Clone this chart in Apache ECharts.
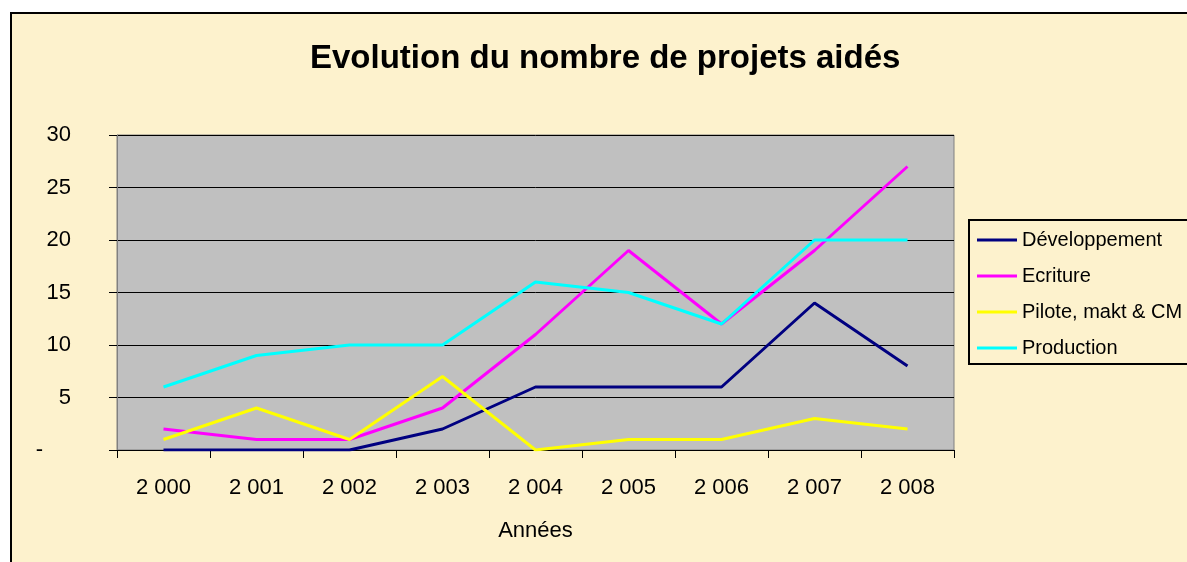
<!DOCTYPE html>
<html>
<head>
<meta charset="utf-8">
<script src="https://cdn.jsdelivr.net/npm/echarts@6/dist/echarts.min.js"></script>
<style>
html,body{margin:0;padding:0;background:#fff;}
#c{width:1187px;height:562px;}
</style>
</head>
<body>
<div id="c"></div>
<script>
var categories = ['2 000','2 001','2 002','2 003','2 004','2 005','2 006','2 007','2 008'];
var seriesNames = ['Développement','Ecriture','Pilote, makt & CM','Production'];
var developpement = [0,0,0,2,6,6,6,14,8];
var ecriture = [2,1,1,4,11,19,12,19,27];
var pilote = [1,4,1,7,0,1,1,3,2];
var production = [6,9,10,10,16,15,12,20,20];
var colors = ['#000080','#FF00FF','#FFFF00','#00FFFF'];
var yTicks = {min:0, max:30, interval:5};

var FONT = '"Liberation Sans", Arial, sans-serif';
var chart = echarts.init(document.getElementById('c'));
var dataSets = [developpement, ecriture, pilote, production];
chart.setOption({
  backgroundColor: '#FDF2CD',
  animation: false,
  textStyle: {fontFamily: FONT, color: '#000'},
  title: {
    text: 'Evolution du nombre de projets aidés',
    left: 305, top: 37,
    textStyle: {fontFamily: FONT, fontWeight: 'bold', fontSize: 33, color: '#000'}
  },
  graphic: [
    {type: 'rect', shape: {x: 0, y: 0, width: 1187, height: 12}, style: {fill: '#fff'}, silent: true},
    {type: 'rect', shape: {x: 0, y: 0, width: 10, height: 562}, style: {fill: '#fff'}, silent: true},
    {type: 'rect', shape: {x: 10, y: 12, width: 1177, height: 2}, style: {fill: '#000'}, silent: true},
    {type: 'rect', shape: {x: 10, y: 12, width: 2, height: 550}, style: {fill: '#000'}, silent: true}
  ],
  legend: {
    orient: 'vertical',
    left: 969, top: 220,
    padding: [10, 40, 6, 8],
    borderColor: '#000', borderWidth: 2,
    itemWidth: 40, itemHeight: 3, itemGap: 16,
    icon: 'rect',
    textStyle: {fontFamily: FONT, fontSize: 20, color: '#000', lineHeight: 20},
    data: seriesNames
  },
  grid: {
    left: 117, top: 135, width: 837, height: 315,
    show: true, backgroundColor: '#C0C0C0', borderColor: '#808080', borderWidth: 1
  },
  xAxis: {
    type: 'category', data: categories, boundaryGap: true,
    name: 'Années', nameLocation: 'middle', nameGap: 70,
    nameTextStyle: {fontFamily: FONT, fontSize: 22, color: '#000'},
    axisLine: {lineStyle: {color: '#000', width: 1}},
    axisTick: {show: true, interval: 0, length: 8, lineStyle: {color: '#000'}},
    axisLabel: {interval: 0, margin: 27, fontFamily: FONT, fontSize: 22, color: '#000'},
    splitLine: {show: false}
  },
  yAxis: {
    type: 'value', min: yTicks.min, max: yTicks.max, interval: yTicks.interval,
    axisLine: {show: true, lineStyle: {color: '#808080', width: 1}},
    axisTick: {show: true, length: 8, lineStyle: {color: '#000'}},
    axisLabel: {
      margin: 46, fontFamily: FONT, fontSize: 22, color: '#000',
      formatter: function (v) { return v === 0 ? '{d|-}' : String(v); },
      rich: {d: {fontFamily: FONT, fontSize: 22, color: '#000', padding: [0, 28, 0, 0]}}
    },
    splitLine: {show: true, lineStyle: {color: '#000', width: 1}}
  },
  series: seriesNames.map(function (n, i) {
    return {
      name: n, type: 'line', data: dataSets[i],
      symbol: 'none', smooth: false,
      lineStyle: {color: colors[i], width: 3},
      itemStyle: {color: colors[i]}
    };
  })
});
</script>
</body>
</html>
